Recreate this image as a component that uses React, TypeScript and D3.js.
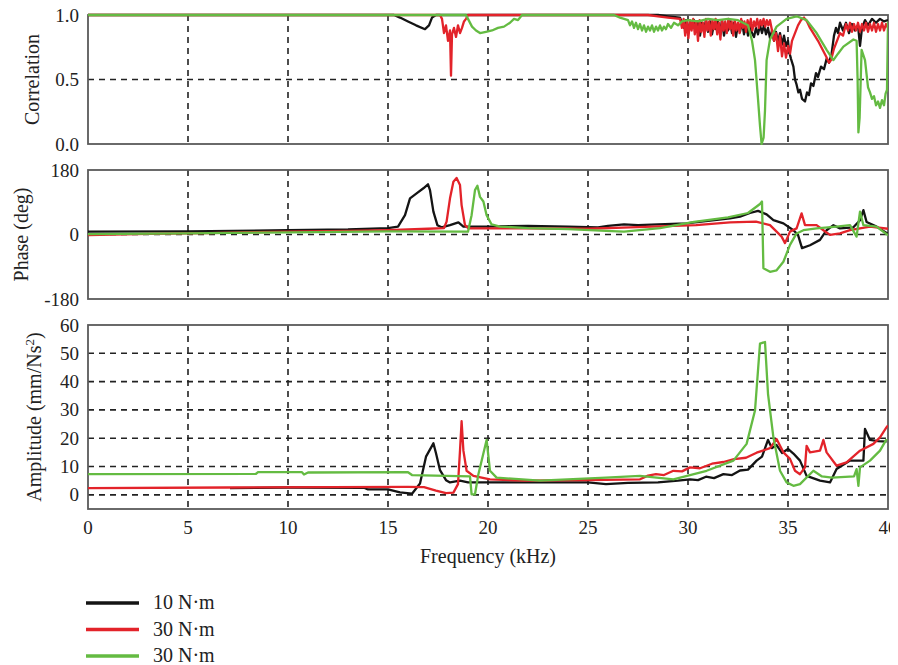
import React from "react";
import * as d3 from "d3";

type Pt = [number, number];

// Frequency axis ticks (kHz)
const freqTicks = [0, 5, 10, 15, 20, 25, 30, 35, 40];
const corrTicks = [0, 0.5, 1];
const phaseTicks = [-180, 0, 180];
const ampTicks = [0, 10, 20, 30, 40, 50, 60];

const legendLabels = ["10 N·m", "30 N·m", "30 N·m"];

// Correlation (coherence) of each measurement, [kHz, value]
const corrBlack: Pt[] = [
  [0, 1], [15.3, 1], [15.6, 0.98], [16.0, 0.95], [16.4, 0.92], [16.85, 0.89], [17.05, 0.92], [17.2, 0.98], [17.4, 1],
  [28.5, 1], [29, 0.99], [29.6, 0.98],
  [29.8, 0.9], [29.9, 0.96], [30.0, 0.86], [30.1, 0.95], [30.2, 0.9], [30.3, 0.96], [30.4, 0.87], [30.5, 0.95],
  [30.6, 0.84], [30.7, 0.94], [30.8, 0.89], [30.9, 0.96], [31.0, 0.87], [31.1, 0.95], [31.2, 0.85], [31.3, 0.93],
  [31.4, 0.89], [31.5, 0.95], [31.6, 0.86], [31.7, 0.96], [31.8, 0.84], [31.9, 0.92], [32.0, 0.88], [32.1, 0.95],
  [32.2, 0.86], [32.3, 0.94], [32.4, 0.83], [32.5, 0.93], [32.6, 0.87], [32.7, 0.95], [32.8, 0.85], [32.9, 0.93],
  [33.0, 0.84], [33.1, 0.91], [33.2, 0.86], [33.3, 0.83], [33.4, 0.9], [33.5, 0.85], [33.6, 0.92], [33.7, 0.86],
  [33.8, 0.92], [33.9, 0.85], [34.0, 0.9], [34.1, 0.82], [34.2, 0.88], [34.3, 0.8], [34.4, 0.87], [34.5, 0.79],
  [34.6, 0.86], [34.7, 0.77], [34.8, 0.84], [34.9, 0.76], [35.0, 0.8], [35.05, 0.72], [35.15, 0.66], [35.27, 0.6],
  [35.35, 0.5], [35.43, 0.46], [35.52, 0.4], [35.6, 0.42], [35.7, 0.35], [35.85, 0.33], [35.95, 0.4], [36.05, 0.38],
  [36.15, 0.47], [36.27, 0.45], [36.4, 0.55], [36.5, 0.52], [36.65, 0.6], [36.8, 0.58], [36.93, 0.66], [37.05, 0.63],
  [37.18, 0.7], [37.3, 0.84], [37.4, 0.9], [37.5, 0.86], [37.6, 0.94], [37.75, 0.88], [37.9, 0.94], [38.05, 0.86],
  [38.2, 0.93], [38.35, 0.88], [38.5, 0.92], [38.6, 0.76], [38.7, 0.9], [38.85, 0.96], [39.0, 0.92], [39.2, 0.97],
  [39.4, 0.94], [39.6, 0.97], [39.8, 0.95], [40, 0.96],
];

const corrRed: Pt[] = [
  [0, 1], [17.6, 1], [17.7, 0.97], [17.8, 0.86], [17.9, 0.92], [18.0, 0.8], [18.1, 0.88], [18.15, 0.53], [18.2, 0.85],
  [18.3, 0.9], [18.4, 0.83], [18.5, 0.92], [18.6, 0.86], [18.7, 0.9], [18.8, 0.95], [18.9, 0.97], [19.0, 1],
  [28, 1], [28.5, 0.99], [29.0, 0.98], [29.6, 0.97],
  [29.7, 0.9], [29.78, 0.97], [29.86, 0.84], [29.94, 0.95], [30.02, 0.82], [30.1, 0.96], [30.18, 0.88], [30.26, 0.97],
  [30.34, 0.85], [30.42, 0.95], [30.5, 0.8], [30.58, 0.96], [30.66, 0.87], [30.74, 0.94], [30.82, 0.83], [30.9, 0.97],
  [30.98, 0.88], [31.06, 0.95], [31.14, 0.84], [31.22, 0.96], [31.3, 0.89], [31.38, 0.97], [31.46, 0.85], [31.54, 0.94],
  [31.62, 0.81], [31.7, 0.96], [31.78, 0.88], [31.86, 0.95], [31.94, 0.86], [32.02, 0.97], [32.1, 0.89], [32.18, 0.95],
  [32.26, 0.84], [32.34, 0.96], [32.42, 0.88], [32.5, 0.94], [32.58, 0.86], [32.66, 0.97], [32.74, 0.9], [32.82, 0.95],
  [32.9, 0.87], [32.98, 0.96], [33.06, 0.9], [33.14, 0.97], [33.22, 0.88], [33.3, 0.95], [33.38, 0.91], [33.46, 0.97],
  [33.54, 0.9], [33.62, 0.96], [33.7, 0.92], [33.78, 0.97], [33.86, 0.91], [33.94, 0.96], [34.02, 0.92], [34.1, 0.96],
  [34.2, 0.88], [34.3, 0.8], [34.4, 0.86], [34.5, 0.72], [34.6, 0.84], [34.7, 0.68], [34.8, 0.78], [34.9, 0.67],
  [35.0, 0.76], [35.1, 0.7], [35.2, 0.8], [35.35, 0.86], [35.5, 0.92], [35.65, 0.96], [35.8, 0.98], [35.95, 0.95],
  [36.1, 0.9], [36.3, 0.85], [36.5, 0.8], [36.7, 0.74], [36.9, 0.68], [37.05, 0.63], [37.15, 0.65], [37.3, 0.74],
  [37.45, 0.8], [37.6, 0.86], [37.75, 0.84], [37.9, 0.93], [38.0, 0.88], [38.1, 0.94], [38.2, 0.87], [38.3, 0.93],
  [38.4, 0.88], [38.5, 0.94], [38.6, 0.87], [38.7, 0.93], [38.8, 0.88], [38.9, 0.94], [39.0, 0.87], [39.1, 0.93],
  [39.2, 0.88], [39.3, 0.94], [39.4, 0.87], [39.5, 0.93], [39.6, 0.88], [39.7, 0.94], [39.8, 0.88], [39.9, 0.93],
  [40, 0.9],
];

const corrGreen: Pt[] = [
  [0, 1], [18.9, 1], [19.0, 0.97], [19.2, 0.91], [19.4, 0.88], [19.6, 0.86], [19.9, 0.87], [20.2, 0.88], [20.5, 0.9],
  [20.8, 0.91], [21.1, 0.94], [21.3, 0.97], [21.5, 0.96], [21.7, 1], [26.3, 1], [26.6, 0.98], [27.0, 0.96],
  [27.1, 0.92], [27.2, 0.95], [27.3, 0.9], [27.4, 0.94], [27.5, 0.89], [27.6, 0.93], [27.7, 0.88], [27.8, 0.92],
  [27.9, 0.87], [28.0, 0.91], [28.1, 0.88], [28.2, 0.92], [28.3, 0.87], [28.4, 0.91], [28.5, 0.88], [28.6, 0.92],
  [28.7, 0.88], [28.8, 0.91], [28.9, 0.89], [29.0, 0.93], [29.15, 0.9], [29.3, 0.94], [29.5, 0.92], [29.7, 0.95],
  [30.0, 0.96], [30.5, 0.95], [31.0, 0.97], [31.5, 0.96], [32.0, 0.97], [32.5, 0.96], [33.0, 0.92],
  [33.2, 0.8], [33.35, 0.65], [33.5, 0.35], [33.6, 0.14], [33.68, 0.0], [33.78, 0.05], [33.85, 0.26], [33.93, 0.65],
  [34.1, 0.81], [34.43, 0.91], [34.93, 0.97], [35.43, 0.99], [35.93, 0.96], [36.43, 0.86], [36.93, 0.73],
  [37.27, 0.65], [37.5, 0.7], [37.77, 0.755], [38.27, 0.81], [38.43, 0.8], [38.48, 0.5], [38.52, 0.09], [38.58, 0.2],
  [38.68, 0.73], [38.85, 0.65], [39.0, 0.44], [39.1, 0.4], [39.2, 0.35], [39.3, 0.37], [39.4, 0.3], [39.5, 0.33],
  [39.6, 0.28], [39.7, 0.34], [39.8, 0.3], [39.88, 0.39], [39.95, 0.42], [40, 0.95],
];

// Phase, [kHz, degrees]
const phaseBlack: Pt[] = [
  [0, 8], [5, 9], [10, 12], [13, 14], [15, 18], [15.5, 22], [15.85, 54], [16.1, 101], [16.43, 115], [16.77, 129],
  [17.0, 140], [17.1, 124], [17.27, 64], [17.47, 26], [17.68, 20], [18.1, 26], [18.52, 34], [18.77, 22], [20, 22],
  [22, 24], [24, 22], [25.5, 20], [26, 24], [26.8, 28], [27.5, 26], [28.5, 28], [29.9, 31], [31, 38], [32.1, 45],
  [32.6, 50], [33.1, 60], [33.5, 66], [33.93, 56], [34.27, 40], [34.77, 31], [35.27, 12], [35.5, -1], [35.7, -38],
  [36.1, -30], [36.6, -15], [36.93, 12], [37.27, 26], [37.6, 17], [38.27, 20], [38.6, 40], [38.77, 68], [38.93, 35],
  [39.43, 22], [40, 2],
];

const phaseRed: Pt[] = [
  [0, -2], [3, 2], [6, 4], [10, 8], [13, 10], [15, 12], [16, 14], [17, 16], [17.8, 18], [17.93, 36], [18.1, 101],
  [18.27, 147], [18.43, 158], [18.6, 138], [18.68, 82], [18.85, 26], [19.02, 17], [22, 17], [25, 16], [27.1, 20],
  [30.4, 26], [32.1, 34], [33.4, 36], [34.1, 26], [34.43, 8], [34.68, -6], [34.85, -24], [35.1, 8], [35.43, 17],
  [35.68, 59], [35.85, 26], [36.43, 26], [36.77, 12], [37.1, -1], [37.6, 3], [38.1, 12], [39.1, 22], [40, 16],
];

const phaseGreen: Pt[] = [
  [0, 1], [5, 3], [10, 6], [15, 9], [19.0, 8], [19.18, 54], [19.35, 124], [19.47, 136], [19.6, 105], [19.77, 92],
  [19.93, 54], [20.18, 28], [20.6, 22], [22, 18], [24, 15], [25.9, 10], [26.8, 8], [28.6, 18], [30.3, 35], [32, 48],
  [33.0, 60], [33.6, 85], [33.7, 92], [33.77, -94], [34.1, -104], [34.43, -100], [34.77, -76], [35.1, -29],
  [35.43, 3], [35.77, 12], [36.43, 17], [37.43, 22], [38.1, 26], [38.43, -6], [38.6, 64], [38.77, 26], [39.43, 22],
  [40, -2],
];

// Amplitude, [kHz, mm/Ns²]
const ampBlack: Pt[] = [
  [7.1, 2.4], [10, 2.6], [13.8, 2.5], [14.0, 1.9], [15.0, 1.9], [15.6, 0.9], [16.2, 0.4], [16.6, 4.0], [16.9, 13.5],
  [17.27, 18.2], [17.4, 14.7], [17.6, 8.7], [17.9, 5.2], [18.1, 4.4], [18.6, 5.0], [19, 4.4], [22, 4.4], [25, 4.4],
  [25.9, 3.8], [27, 4.2], [28.5, 4.4], [29.5, 5.0], [30.1, 5.5], [30.5, 5.2], [30.9, 6.4], [31.3, 5.9], [31.77, 7.3],
  [32.2, 7.0], [32.6, 8.6], [33.0, 8.9], [33.43, 12.1], [33.7, 13.5], [34.0, 19.4], [34.2, 16.5], [34.43, 17.6],
  [34.7, 14.8], [35.0, 16.2], [35.27, 14.6], [35.6, 12.1], [35.93, 6.7], [36.6, 5.0], [37.1, 4.4], [37.43, 9.1],
  [38.1, 12.1], [38.77, 12.1], [38.85, 23.3], [39.1, 19.4], [39.5, 19], [39.93, 18.8],
];

const ampRed: Pt[] = [
  [0, 2.4], [7, 2.6], [16, 2.8], [16.8, 2.7], [17.4, 1.5], [17.9, 0.6], [18.27, 0.8], [18.5, 3.8], [18.6, 15.6],
  [18.68, 26], [18.77, 15.6], [18.93, 8.5], [19.27, 6.7], [20.1, 5.5], [21.77, 5.0], [25, 5.2], [27.6, 5.5],
  [28.0, 6.8], [28.4, 7.3], [28.8, 7.0], [29.27, 8.5], [29.7, 8.3], [30.1, 9.7], [30.6, 9.4], [31.2, 11.0],
  [31.77, 11.6], [32.3, 12.6], [32.9, 13.1], [33.43, 14.9], [34.1, 16.5], [34.43, 19.7], [34.77, 15], [35.1, 12.7],
  [35.35, 8.5], [35.6, 7.3], [35.85, 9.7], [35.93, 17.3], [36.1, 15], [36.6, 15.6], [36.77, 19.4], [36.93, 15],
  [37.43, 10.3], [37.93, 11.5], [38.6, 15.6], [39.27, 18], [39.6, 20.3], [39.93, 23.9], [40, 24.5],
];

const ampGreen: Pt[] = [
  [0, 7.3], [8.4, 7.4], [8.5, 8.0], [10.7, 8.0], [10.8, 7.2], [11.0, 7.9], [16.0, 8.0], [16.2, 7.0], [19.1, 6.5],
  [19.18, 0.2], [19.35, 0.2], [19.52, 7.3], [19.93, 19.4], [20.1, 8.5], [20.43, 6.1], [22.6, 5.0], [25.9, 6.1],
  [27.6, 6.7], [29.27, 5.5], [30.93, 8.5], [32.27, 12.1], [32.93, 18.0], [33.35, 29.8], [33.6, 53.4], [33.85, 54],
  [34.0, 35.7], [34.27, 20.3], [34.6, 8.5], [34.93, 4.4], [35.27, 3.2], [35.6, 3.8], [36.27, 8.5], [36.7, 6.5],
  [37.2, 6.1], [38.3, 6.5], [38.43, 9.1], [38.52, 3.2], [38.6, 9.7], [39.1, 12.1], [39.6, 15.6], [39.93, 19.7],
];

const COLORS = ["#141414", "#e3232a", "#64bb42"];
const FONT = "Liberation Serif";
const FONT_CSS = '"Liberation Serif"';
const TEXT_COLOR = "#222";

// Layout in svg coordinates (the svg itself starts inside the body's 8px margin)
const X0 = 80;
const X1 = 880;
const TICK_X = 71;

interface PanelProps {
  top: number;
  bottom: number;
  domain: [number, number];
  ticks: number[];
  gridY: number[];
  fmt: (v: number) => string;
  series: Pt[][];
  title: React.ReactNode;
  titleX: number;
  showX: boolean;
}

const x = d3.scaleLinear().domain([0, 40]).range([X0, X1]);

function Label(props: React.SVGProps<SVGTextElement> & { size: number }) {
  const { size, children, ...rest } = props;
  return (
    <text {...rest} fontFamily={FONT} fontSize={size} style={{ fontFamily: FONT_CSS, fontSize: size }} fill={TEXT_COLOR}>
      {children}
    </text>
  );
}

function Panel({ top, bottom, domain, ticks, gridY, fmt, series, title, titleX, showX }: PanelProps) {
  const y = d3.scaleLinear().domain(domain).range([bottom, top]);
  const line = d3
    .line<Pt>()
    .x((d) => x(d[0]))
    .y((d) => y(d[1]));
  const clipId = `clip-${top}`;
  return (
    <g>
      <defs>
        <clipPath id={clipId}>
          <rect x={X0} y={top - 2} width={X1 - X0} height={bottom - top + 3} />
        </clipPath>
      </defs>
      {freqTicks.slice(1, -1).map((t) => (
        <line key={`v${t}`} x1={x(t)} x2={x(t)} y1={top} y2={bottom} stroke="#222" strokeWidth={1.6} strokeDasharray="6,5" />
      ))}
      {gridY.map((t) => (
        <line key={`h${t}`} x1={X0} x2={X1} y1={y(t)} y2={y(t)} stroke="#222" strokeWidth={1.6} strokeDasharray="6,5" />
      ))}
      <rect x={X0} y={top} width={X1 - X0} height={bottom - top} fill="none" stroke="#5a5a5a" strokeWidth={1.8} />
      <g clipPath={`url(#${clipId})`}>
        {series.map((s, i) => (
          <path key={i} d={line(s) || ""} fill="none" stroke={COLORS[i]} strokeWidth={2.3} strokeLinejoin="round" />
        ))}
      </g>
      {ticks.map((t) => (
        <Label key={`t${t}`} x={TICK_X} y={y(t) + 6.5} textAnchor="end" size={19}>
          {fmt(t)}
        </Label>
      ))}
      <Label transform={`translate(${titleX},${(top + bottom) / 2}) rotate(-90)`} textAnchor="middle" size={20}>
        {title}
      </Label>
      {showX &&
        freqTicks.map((t) => (
          <Label key={`x${t}`} x={x(t)} y={526} textAnchor="middle" size={19}>
            {t}
          </Label>
        ))}
    </g>
  );
}

export default function App() {
  return (
    <svg width={898} height={665}>
      <rect width={898} height={665} fill="#fff" />
      <Panel
        top={7}
        bottom={136}
        domain={[0, 1]}
        ticks={corrTicks}
        gridY={[0.5]}
        fmt={(v) => v.toFixed(1)}
        series={[corrBlack, corrRed, corrGreen]}
        title="Correlation"
        titleX={31}
        showX={false}
      />
      <Panel
        top={162}
        bottom={291}
        domain={[-180, 180]}
        ticks={phaseTicks}
        gridY={[0]}
        fmt={(v) => String(v)}
        series={[phaseBlack, phaseRed, phaseGreen]}
        title="Phase (deg)"
        titleX={20}
        showX={false}
      />
      <Panel
        top={317}
        bottom={501}
        domain={[-5, 60]}
        ticks={ampTicks}
        gridY={[0, 10, 20, 30, 40, 50]}
        fmt={(v) => String(v)}
        series={[ampBlack, ampRed, ampGreen]}
        title={
          <>
            Amplitude (mm/Ns
            <tspan dy={-7} fontSize={13} style={{ fontSize: 13 }}>
              2
            </tspan>
            <tspan dy={7}>)</tspan>
          </>
        }
        titleX={33}
        showX={true}
      />
      <Label x={480} y={555} textAnchor="middle" size={20}>
        Frequency (kHz)
      </Label>
      {legendLabels.map((label, i) => (
        <g key={i} transform={`translate(0,${595 + i * 26.5})`}>
          <line x1={78} x2={131} y1={0} y2={0} stroke={COLORS[i]} strokeWidth={3.5} />
          <Label x={145} y={6} size={20}>
            {label}
          </Label>
        </g>
      ))}
    </svg>
  );
}
